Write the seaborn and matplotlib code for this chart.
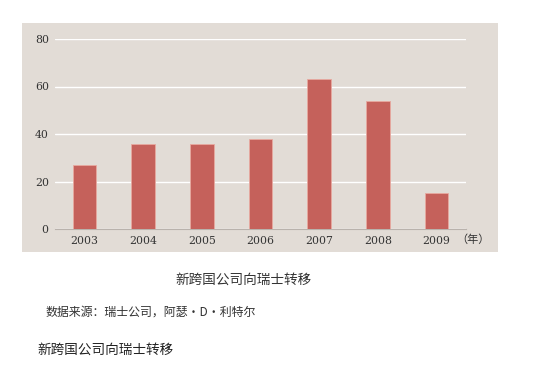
import matplotlib
matplotlib.use("Agg")
import matplotlib.pyplot as plt
import seaborn as sns
import pandas as pd
from matplotlib.patches import Rectangle

# data
years = ["2003", "2004", "2005", "2006", "2007", "2008", "2009"]
counts = [27, 36, 36, 38, 63, 54, 15]
y_ticks = [0, 20, 40, 60, 80]

title_text = "新跨国公司向瑞士转移"
source_text = "数据来源：瑞士公司，阿瑟·D·利特尔"
unit_text = "（年）"

PANEL = "#e2dcd6"
BAR = "#c5615b"

sns.set_style("white")
plt.rcParams["font.family"] = ["Noto Sans CJK SC", "DejaVu Sans"]

df = pd.DataFrame({"year": years, "count": counts})

fig = plt.figure(figsize=(5.35, 3.73), dpi=100)
fig.patch.set_facecolor("white")

# beige panel behind the chart
fig.patches.append(Rectangle((22 / 535, 1 - 252 / 373), 476 / 535, 229 / 373,
                             transform=fig.transFigure, facecolor=PANEL,
                             edgecolor="none", zorder=-5))

ax = fig.add_axes([55 / 535, 1 - 229 / 373, 411 / 535, 190 / 373])
ax.set_zorder(2)
ax.set_facecolor("none")

sns.barplot(data=df, x="year", y="count", color=BAR, width=0.4,
            edgecolor="#e8a9a0", linewidth=0.6, saturation=1, ax=ax, zorder=3)

ax.set_xlim(-0.5, 6.5)
ax.set_ylim(0, 80)
ax.set_yticks(y_ticks)
ax.yaxis.grid(True, color="white", linewidth=1.0, zorder=1)
ax.set_axisbelow(True)
for s in ["top", "right", "left"]:
    ax.spines[s].set_visible(False)
ax.spines["bottom"].set_color("#b9b2ac")
ax.spines["bottom"].set_linewidth(0.8)

ax.tick_params(axis="both", length=0, labelsize=7.8, labelcolor="#333333")
ax.tick_params(axis="x", pad=5)
ax.tick_params(axis="y", pad=4.5)
for lab in ax.get_xticklabels() + ax.get_yticklabels():
    lab.set_family("DejaVu Serif")
ax.set_xlabel("")
ax.set_ylabel("")

fig.text(456 / 535, 1 - 240 / 373, unit_text, fontsize=8, color="#333333",
         ha="left", va="center")

fig.text(244 / 535, 1 - 280 / 373, title_text, fontsize=9.8, color="#333333",
         ha="center", va="center")
fig.text(45 / 535, 1 - 312 / 373, source_text, fontsize=8.6, color="#333333",
         ha="left", va="center")
fig.text(37 / 535, 1 - 350 / 373, title_text, fontsize=9.8, color="#222222",
         ha="left", va="center")

fig.savefig("out.png", dpi=100)
